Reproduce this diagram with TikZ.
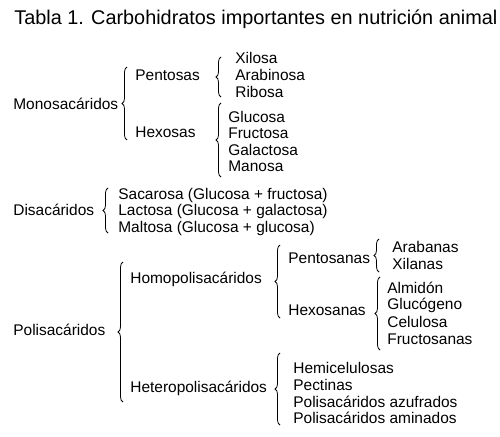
\documentclass[tikz,border=0pt]{standalone}
\usepackage{fontspec}
\setmainfont{Liberation Sans}
\usetikzlibrary{decorations.pathreplacing}
\tikzset{
	item/.style = {anchor = west, inner sep = 0mm, font = \fontsize{8.8}{10}\selectfont},
	heading/.style = {anchor = west, inner sep = 0mm, font = \fontsize{11.3}{13}\selectfont},
	brc/.style = {decorate, decoration = {brace, amplitude = 1mm}, line width = 0.45pt}
}

\begin{document}
\begin{tikzpicture}[x = 0.02cm, y = -0.02cm]
	\useasboundingbox (0, 0) rectangle (500, 436);

	\node [heading] (title) at (14, 19) {Tabla 1. Carbohidratos importantes en nutrición animal};

	% monosacaridos
	\node [item] (mono) at (13, 104) {Monosacáridos};
	\node [item] (pent) at (135, 75) {Pentosas};
	\node [item] (hex) at (135, 132) {Hexosas};
	\foreach\t [count = \i] in {Xilosa, Arabinosa, Ribosa}{
		\node [item] (p\i) at (235, {58 + 17 * (\i - 1)}) {\t};
	}
	\foreach\t [count = \i] in {Glucosa, Fructosa, Galactosa, Manosa}{
		\node [item] (h\i) at (228, {117 + 16.4 * (\i - 1)}) {\t};
	}
	\coordinate (m1) at (127, 140);
	\coordinate (m2) at (127, 67);
	\coordinate (pa) at (221, 97);
	\coordinate (pb) at (221, 57);
	\coordinate (ha) at (221, 177);
	\coordinate (hb) at (221, 103);
	\draw [brc] (m1) -- (m2);
	\draw [brc] (pa) -- (pb);
	\draw [brc] (ha) -- (hb);

	% disacaridos
	\node [item] (di) at (13, 210) {Disacáridos};
	\foreach\t [count = \i] in {Sacarosa (Glucosa + fructosa), Lactosa (Glucosa + galactosa), Maltosa (Glucosa + glucosa)}{
		\node [item] (d\i) at (118, {195 + 16.5 * (\i - 1)}) {\t};
	}
	\coordinate (da) at (108, 233);
	\coordinate (db) at (108, 188);
	\draw [brc] (da) -- (db);

	% polisacaridos
	\node [item] (poli) at (13, 330) {Polisacáridos};
	\node [item] (homo) at (130, 279) {Homopolisacáridos};
	\node [item] (hetero) at (130, 388) {Heteropolisacáridos};
	\node [item] (pents) at (288, 258) {Pentosanas};
	\node [item] (hexs) at (288, 310) {Hexosanas};
	\foreach\t [count = \i] in {Arabanas, Xilanas}{
		\node [item] (ps\i) at (392, {247 + 17 * (\i - 1)}) {\t};
	}
	\foreach\t [count = \i] in {Almidón, Glucógeno, Celulosa, Fructosanas}{
		\node [item] (hs\i) at (387, {288 + 17 * (\i - 1)}) {\t};
	}
	\foreach\t [count = \i] in {Hemicelulosas, Pectinas, Polisacáridos azufrados, Polisacáridos aminados}{
		\node [item] (he\i) at (293, {368 + 16.7 * (\i - 1)}) {\t};
	}
	\coordinate (pla) at (123, 402);
	\coordinate (plb) at (123, 262);
	\coordinate (hoa) at (280, 318);
	\coordinate (hob) at (280, 245);
	\coordinate (hea) at (280, 425);
	\coordinate (heb) at (280, 353);
	\coordinate (psa) at (379, 272);
	\coordinate (psb) at (379, 239);
	\coordinate (hsa) at (380, 350);
	\coordinate (hsb) at (380, 277);
	\draw [brc] (pla) -- (plb);
	\draw [brc] (hoa) -- (hob);
	\draw [brc] (hea) -- (heb);
	\draw [brc] (psa) -- (psb);
	\draw [brc] (hsa) -- (hsb);
\end{tikzpicture}
\end{document}
